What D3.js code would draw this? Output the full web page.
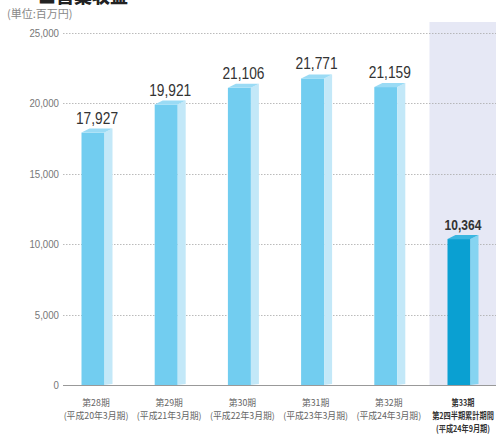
<!DOCTYPE html>
<html>
<head>
<meta charset="utf-8">
<script src="https://cdn.jsdelivr.net/npm/d3@7"></script>
<style>
  html, body { margin: 0; padding: 0; background: #fff; }
  svg { display: block; }
  text { font-family: "Liberation Sans", "Noto Sans CJK JP", sans-serif; }
  .jp { font-family: "Noto Sans CJK JP", sans-serif; }
</style>
</head>
<body>
<svg id="chart" width="496" height="439"></svg>
<script>
// Operating revenue (million yen) by fiscal period
const periods = ["第28期", "第29期", "第30期", "第31期", "第32期", "第33期"];
const subLabels = [
  ["(平成20年3月期)"],
  ["(平成21年3月期)"],
  ["(平成22年3月期)"],
  ["(平成23年3月期)"],
  ["(平成24年3月期)"],
  ["第2四半期累計期間", "(平成24年9月期)"]
];
const revenue = [17927, 19921, 21106, 21771, 21159, 10364];
const yTicks = [0, 5000, 10000, 15000, 20000, 25000];
const highlightIndex = 5;

const svg = d3.select("#chart");
const W = 496;
const plot = { left: 63, top: 33, bottom: 385 };

// Bar centres (front face plus side face)
const x = d3.scalePoint().domain(periods).range([97, 463]);
const y = d3.scaleLinear().domain([0, 25000]).range([plot.bottom, plot.top]);

const frontW = 23, depth = 8, rise = 4;
const left = p => x(p) - (frontW + depth) / 2;

// Title (runs off the top edge)
svg.append("text")
  .attr("class", "jp")
  .attr("x", 38).attr("y", 3)
  .attr("font-size", 18).attr("font-weight", 900).attr("fill", "#222")
  .text("■営業収益");

// Unit label
svg.append("text")
  .attr("class", "jp")
  .attr("x", 7).attr("y", 18)
  .attr("font-size", 11).attr("fill", "#888")
  .text("(単位:百万円)");

// Shaded background behind the interim period
const hx = left(periods[highlightIndex]) - 18;
svg.append("rect")
  .attr("x", hx).attr("y", 22)
  .attr("width", W - hx).attr("height", plot.bottom - 22)
  .attr("fill", "#e6e8f5");

// Gridlines
svg.append("g").selectAll("line")
  .data(yTicks.filter(d => d > 0))
  .join("line")
  .attr("x1", plot.left).attr("x2", W)
  .attr("y1", d => Math.round(y(d)) + 0.5).attr("y2", d => Math.round(y(d)) + 0.5)
  .attr("stroke", "#aaa").attr("stroke-width", 0.8)
  .attr("stroke-dasharray", "1.5,1.5");

// Y axis tick labels
svg.append("g").selectAll("text")
  .data(yTicks)
  .join("text")
  .attr("transform", d => `translate(59,${y(d) + 4}) scale(0.88,1)`)
  .attr("text-anchor", "end")
  .attr("font-size", 11).attr("fill", "#777")
  .text(d => d3.format(",")(d));

// Bars with a simple 3D look
const bars = svg.append("g").selectAll("g")
  .data(revenue.map((v, i) => ({ v, i, p: periods[i] })))
  .join("g");

bars.append("rect")
  .attr("x", d => left(d.p)).attr("y", d => y(d.v))
  .attr("width", frontW).attr("height", d => y(0) - y(d.v))
  .attr("fill", d => d.i === highlightIndex ? "#0aa0d2" : "#72cdf0");

bars.append("path")
  .attr("d", d => {
    const x1 = left(d.p) + frontW, yt = y(d.v), yb = y(0);
    return `M${x1},${yt}L${x1 + depth},${yt - rise}L${x1 + depth},${yb - 1}L${x1},${yb}Z`;
  })
  .attr("fill", d => d.i === highlightIndex ? "#86d4f1" : "#c3e8f8");

bars.append("path")
  .attr("d", d => {
    const x0 = left(d.p), x1 = x0 + frontW, yt = y(d.v);
    return `M${x0},${yt}L${x0 + depth},${yt - rise}L${x1 + depth},${yt - rise}L${x1},${yt}Z`;
  })
  .attr("fill", d => d.i === highlightIndex ? "#3bb6e0" : "#9adbf5");

// Baseline
svg.append("line")
  .attr("x1", plot.left).attr("x2", W)
  .attr("y1", y(0) + 0.5).attr("y2", y(0) + 0.5)
  .attr("stroke", "#999").attr("stroke-width", 1.2);

// Value labels
bars.append("text")
  .attr("transform", d => `translate(${x(d.p)},${y(d.v) - rise - 5}) scale(0.86,1)`)
  .attr("text-anchor", "middle")
  .attr("font-size", d => d.i === highlightIndex ? 14 : 16)
  .attr("font-weight", d => d.i === highlightIndex ? "bold" : "normal")
  .attr("fill", "#333")
  .text(d => d3.format(",")(d.v));

// Category labels
const cat = svg.append("g").selectAll("g")
  .data(periods.map((p, i) => ({ p, i })))
  .join("g")
  .attr("transform", d => d.i === highlightIndex
    ? `translate(${x(d.p)},0) scale(0.8,1)`
    : `translate(${x(d.p) - 1},0) scale(0.98,1)`);

cat.each(function (d) {
  const g = d3.select(this);
  const hi = d.i === highlightIndex;
  [d.p, ...subLabels[d.i]].forEach((s, k) => {
    g.append("text")
      .attr("class", "jp")
      .attr("y", 406 + k * 13).attr("text-anchor", "middle")
      .attr("font-size", 9)
      .attr("font-weight", hi ? "bold" : "normal")
      .attr("fill", hi ? "#333" : "#666")
      .text(s);
  });
});
</script>
</body>
</html>
